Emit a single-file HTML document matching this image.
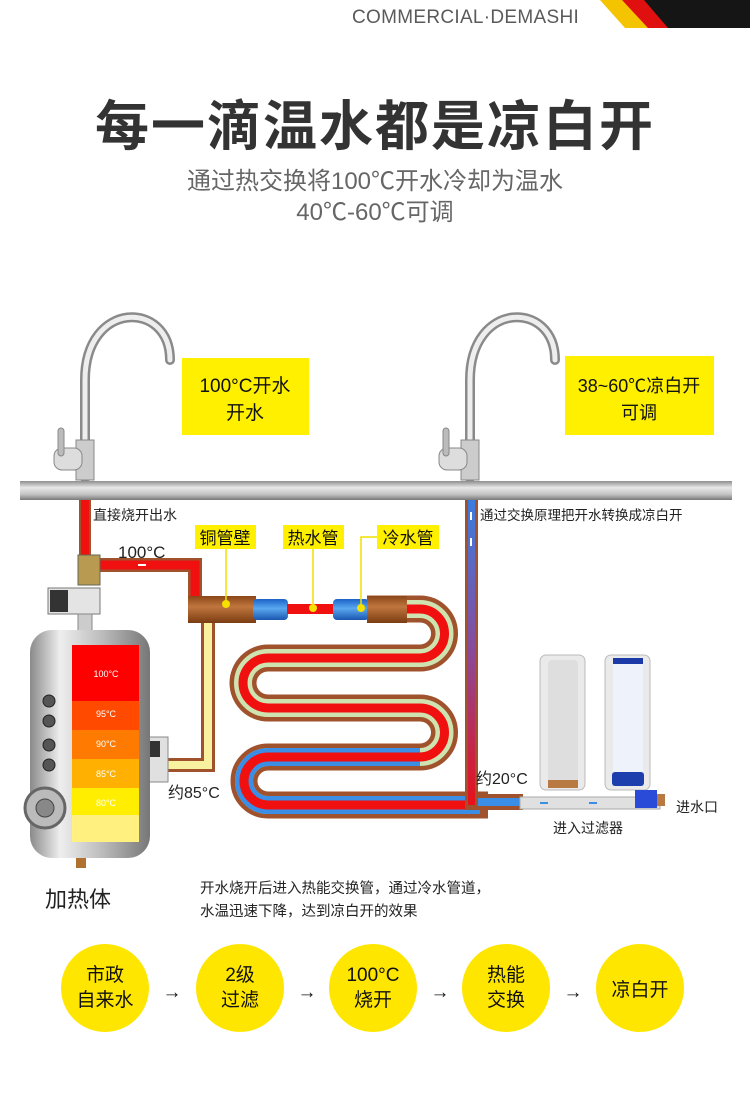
<!DOCTYPE html>
<html><head><meta charset="utf-8"><style>
html,body{margin:0;padding:0;background:#fff}
svg{display:block}
text{font-family:"Liberation Sans","Noto Sans CJK SC",sans-serif}
</style></head><body>
<svg width="750" height="1118" viewBox="0 0 750 1118" xmlns="http://www.w3.org/2000/svg">
<defs>
<linearGradient id="pipeG" x1="0" y1="0" x2="0" y2="1">
<stop offset="0" stop-color="#8e8e8e"/><stop offset="0.35" stop-color="#e8e8e8"/><stop offset="0.7" stop-color="#c4c4c4"/><stop offset="1" stop-color="#7a7a7a"/></linearGradient>
<linearGradient id="tankG" x1="0" y1="0" x2="1" y2="0">
<stop offset="0" stop-color="#8a8a8a"/><stop offset="0.25" stop-color="#eeeeee"/><stop offset="0.6" stop-color="#bcbcbc"/><stop offset="1" stop-color="#777"/></linearGradient>
<linearGradient id="copG" x1="0" y1="0" x2="0" y2="1">
<stop offset="0" stop-color="#8a4618"/><stop offset="0.4" stop-color="#c0763e"/><stop offset="1" stop-color="#7a3c12"/></linearGradient>
<linearGradient id="bluG" x1="0" y1="0" x2="0" y2="1">
<stop offset="0" stop-color="#1c62c8"/><stop offset="0.45" stop-color="#5aa8f0"/><stop offset="1" stop-color="#1b55b0"/></linearGradient>
<linearGradient id="riseG" x1="0" y1="0" x2="0" y2="1">
<stop offset="0" stop-color="#3a7de0"/><stop offset="0.5" stop-color="#8a4a9a"/><stop offset="1" stop-color="#e8101a"/></linearGradient>
<linearGradient id="faucG" x1="0" y1="0" x2="1" y2="0">
<stop offset="0" stop-color="#777"/><stop offset="0.5" stop-color="#f4f4f4"/><stop offset="1" stop-color="#888"/></linearGradient>
</defs>

<!-- header -->
<text x="352" y="23" font-size="19" fill="#5a5a5a" letter-spacing="0.3">COMMERCIAL·DEMASHI</text>
<polygon points="600,0 625,0 650,28 625,28" fill="#f5c400"/>
<polygon points="622,0 646,0 672,28 648,28" fill="#e01010"/>
<polygon points="644,0 750,0 750,28 668,28" fill="#151515"/>

<text x="375" y="145" font-size="54" font-weight="bold" fill="#333" text-anchor="middle" letter-spacing="2">每一滴温水都是凉白开</text>
<text x="375" y="189" font-size="24" fill="#666" text-anchor="middle">通过热交换将100℃开水冷却为温水</text>
<text x="375" y="220" font-size="24" fill="#666" text-anchor="middle">40℃-60℃可调</text>

<!-- faucets -->
<g fill="none" stroke="url(#faucG)" stroke-linecap="round">
<path d="M85 478 V380 C85 300 170 300 170 360" stroke="#8a8a8a" stroke-width="10"/>
<path d="M85 478 V380 C85 300 170 300 170 360" stroke="#eee" stroke-width="5"/>
<path d="M470 478 V380 C470 300 555 300 555 360" stroke="#8a8a8a" stroke-width="10"/>
<path d="M470 478 V380 C470 300 555 300 555 360" stroke="#eee" stroke-width="5"/>
</g>
<rect x="76" y="440" width="18" height="40" fill="#ccc" stroke="#888"/>
<rect x="54" y="448" width="28" height="22" rx="8" fill="#ddd" stroke="#888"/>
<rect x="58" y="428" width="6" height="28" rx="3" fill="#bbb" stroke="#888"/>
<rect x="461" y="440" width="18" height="40" fill="#ccc" stroke="#888"/>
<rect x="439" y="448" width="28" height="22" rx="8" fill="#ddd" stroke="#888"/>
<rect x="443" y="428" width="6" height="28" rx="3" fill="#bbb" stroke="#888"/>

<rect x="182" y="358" width="127" height="77" fill="#fff000"/>
<text x="245" y="392" font-size="19" text-anchor="middle" fill="#111">100°C开水</text>
<text x="245" y="419" font-size="19" text-anchor="middle" fill="#111">开水</text>
<rect x="565" y="356" width="149" height="79" fill="#fff000"/>
<text x="639" y="392" font-size="18" text-anchor="middle" fill="#111">38~60℃凉白开</text>
<text x="639" y="419" font-size="18" text-anchor="middle" fill="#111">可调</text>

<!-- main pipe -->
<rect x="20" y="481" width="712" height="19" fill="url(#pipeG)"/>

<!-- red outlet pipe -->
<rect x="79" y="500" width="12" height="70" fill="#a0522d"/>
<rect x="81" y="500" width="8" height="70" fill="#f01010"/>
<path d="M90 565 H195 V610" fill="none" stroke="#a0522d" stroke-width="14"/>
<path d="M90 565 H195 V610" fill="none" stroke="#f01010" stroke-width="9"/>
<path d="M138 565 h8" stroke="#fff" stroke-width="2"/>
<!-- yellow return pipe -->
<path d="M208 620 V765 H165" fill="none" stroke="#a0522d" stroke-width="14"/>
<path d="M208 620 V765 H165" fill="none" stroke="#f8f2a0" stroke-width="8"/>

<!-- valve above tank -->
<rect x="78" y="555" width="22" height="30" fill="#b89a50" stroke="#665"/>
<rect x="48" y="588" width="52" height="26" fill="#e4e4e4" stroke="#777"/>
<rect x="50" y="590" width="18" height="22" fill="#333"/>
<rect x="78" y="614" width="14" height="18" fill="#ccc" stroke="#888"/>
<rect x="146" y="737" width="22" height="45" fill="#e0e0e0" stroke="#888"/>
<rect x="150" y="741" width="10" height="16" fill="#333"/>

<!-- tank -->
<rect x="30" y="630" width="120" height="228" rx="22" fill="url(#tankG)"/>
<rect x="72" y="645" width="67" height="56" fill="#ff0000"/>
<rect x="72" y="701" width="67" height="29" fill="#ff4a00"/>
<rect x="72" y="730" width="67" height="29" fill="#ff7a00"/>
<rect x="72" y="759" width="67" height="29" fill="#ffb000"/>
<rect x="72" y="788" width="67" height="27" fill="#ffee00"/>
<rect x="72" y="815" width="67" height="27" fill="#fff080"/>
<g font-size="9" fill="#fff" text-anchor="middle">
<text x="106" y="677">100°C</text><text x="106" y="717">95°C</text><text x="106" y="747">90°C</text><text x="106" y="777">85°C</text><text x="106" y="806">80°C</text></g>
<g fill="#555" stroke="#222"><circle cx="49" cy="701" r="6"/><circle cx="49" cy="721" r="6"/><circle cx="49" cy="745" r="6"/><circle cx="49" cy="765" r="6"/></g>
<circle cx="45" cy="808" r="20" fill="#bbb" stroke="#666" stroke-width="3"/>
<circle cx="45" cy="808" r="9" fill="#888" stroke="#444"/>
<rect x="76" y="858" width="10" height="10" fill="#b07030"/>

<!-- copper/blue exchange -->
<rect x="188" y="596" width="68" height="27" fill="url(#copG)"/>
<rect x="253" y="599" width="35" height="21" rx="4" fill="url(#bluG)"/>
<rect x="287" y="604" width="47" height="10" fill="#f01010"/>
<rect x="333" y="599" width="36" height="21" rx="4" fill="url(#bluG)"/>
<path d="M367 609 H420 A24.5 24.5 0 0 1 420 658 H268 A25 25 0 0 0 268 708 H420 A24.5 24.5 0 0 1 420 757 H268 A24 24 0 0 0 268 805 H488" fill="none" stroke="#a0522d" stroke-width="27"/>
<path d="M400 609 H420 A24.5 24.5 0 0 1 420 658 H268 A25 25 0 0 0 268 708 H420 A24.5 24.5 0 0 1 420 757 H268 A24 24 0 0 0 268 805 H480" fill="none" stroke="#cfe3b0" stroke-width="18"/>
<path d="M420 757 H268 A24 24 0 0 0 268 805 H480" fill="none" stroke="#3a8ee6" stroke-width="18"/>
<path d="M405 609 H420 A24.5 24.5 0 0 1 420 658 H268 A25 25 0 0 0 268 708 H420 A24.5 24.5 0 0 1 420 757 H268 A24 24 0 0 0 268 805 H472" fill="none" stroke="#f01010" stroke-width="9"/>
<rect x="367" y="596" width="40" height="27" fill="url(#copG)"/>
<!-- rising pipe -->
<rect x="465" y="500" width="13" height="310" fill="#a0522d"/>
<rect x="468" y="500" width="7" height="305" fill="url(#riseG)"/>
<path d="M471 520 v-8 M471 546 v-8" stroke="#fff" stroke-width="2"/>
<!-- to filter -->
<rect x="478" y="794" width="45" height="16" fill="#a0522d"/>
<rect x="478" y="798" width="45" height="8" fill="#3a8ee6"/>
<rect x="520" y="797" width="140" height="12" fill="#e0e0e0" stroke="#aaa"/>
<path d="M548 803 h-8 M597 803 h-8" stroke="#3a8ee6" stroke-width="2"/>

<!-- filters -->
<rect x="540" y="655" width="45" height="135" rx="6" fill="#eaeaea" stroke="#bbb"/>
<rect x="548" y="660" width="30" height="125" rx="4" fill="#dedede"/>
<rect x="548" y="780" width="30" height="8" fill="#b87a40"/>
<rect x="605" y="655" width="45" height="135" rx="6" fill="#eaeaea" stroke="#bbb"/>
<rect x="613" y="660" width="30" height="118" rx="4" fill="#eef2fa"/>
<rect x="613" y="658" width="30" height="6" fill="#1b3aa8"/>
<rect x="612" y="772" width="32" height="14" rx="3" fill="#1d3fae"/>
<rect x="635" y="790" width="22" height="18" fill="#2a4ad8"/>
<rect x="657" y="794" width="8" height="12" fill="#b87a40"/>

<!-- labels -->
<g font-size="14" fill="#222">
<text x="93" y="520">直接烧开出水</text>
<text x="480" y="520" font-size="13.5">通过交换原理把开水转换成凉白开</text>
<text x="118" y="558" font-size="17">100°C</text>
<text x="168" y="798" font-size="16">约85°C</text>
<text x="476" y="784" font-size="16">约20°C</text>
<text x="676" y="812" font-size="14">进水口</text>
<text x="553" y="833" font-size="14">进入过滤器</text>
<text x="45" y="907" font-size="22">加热体</text>
<text x="200" y="893" font-size="14.5">开水烧开后进入热能交换管，通过冷水管道，</text>
<text x="200" y="916" font-size="14.5">水温迅速下降，达到凉白开的效果</text>
</g>
<g stroke="#f0e000" stroke-width="1.5" fill="none">
<path d="M226 549 V602"/><path d="M313 549 V607"/><path d="M377 537 H361 V608"/></g>
<g fill="#f5e000"><circle cx="226" cy="604" r="4"/><circle cx="313" cy="608" r="4"/><circle cx="361" cy="608" r="4"/></g>
<g fill="#fff000"><rect x="195" y="525" width="61" height="24"/><rect x="283" y="525" width="61" height="24"/><rect x="377" y="525" width="62" height="24"/></g>
<g font-size="17" fill="#111" text-anchor="middle"><text x="225" y="544">铜管壁</text><text x="313" y="544">热水管</text><text x="408" y="544">冷水管</text></g>

<!-- process -->
<g fill="#ffe600"><circle cx="105" cy="988" r="44"/><circle cx="240" cy="988" r="44"/><circle cx="373" cy="988" r="44"/><circle cx="506" cy="988" r="44"/><circle cx="640" cy="988" r="44"/></g>
<g font-size="19" fill="#111" text-anchor="middle">
<text x="105" y="981">市政</text><text x="105" y="1006">自来水</text>
<text x="240" y="981">2级</text><text x="240" y="1006">过滤</text>
<text x="373" y="981">100°C</text><text x="373" y="1006">烧开</text>
<text x="506" y="981">热能</text><text x="506" y="1006">交换</text>
<text x="640" y="996">凉白开</text>
<text x="172" y="998">→</text><text x="307" y="998">→</text><text x="440" y="998">→</text><text x="573" y="998">→</text>
</g>
</svg>
</body></html>
